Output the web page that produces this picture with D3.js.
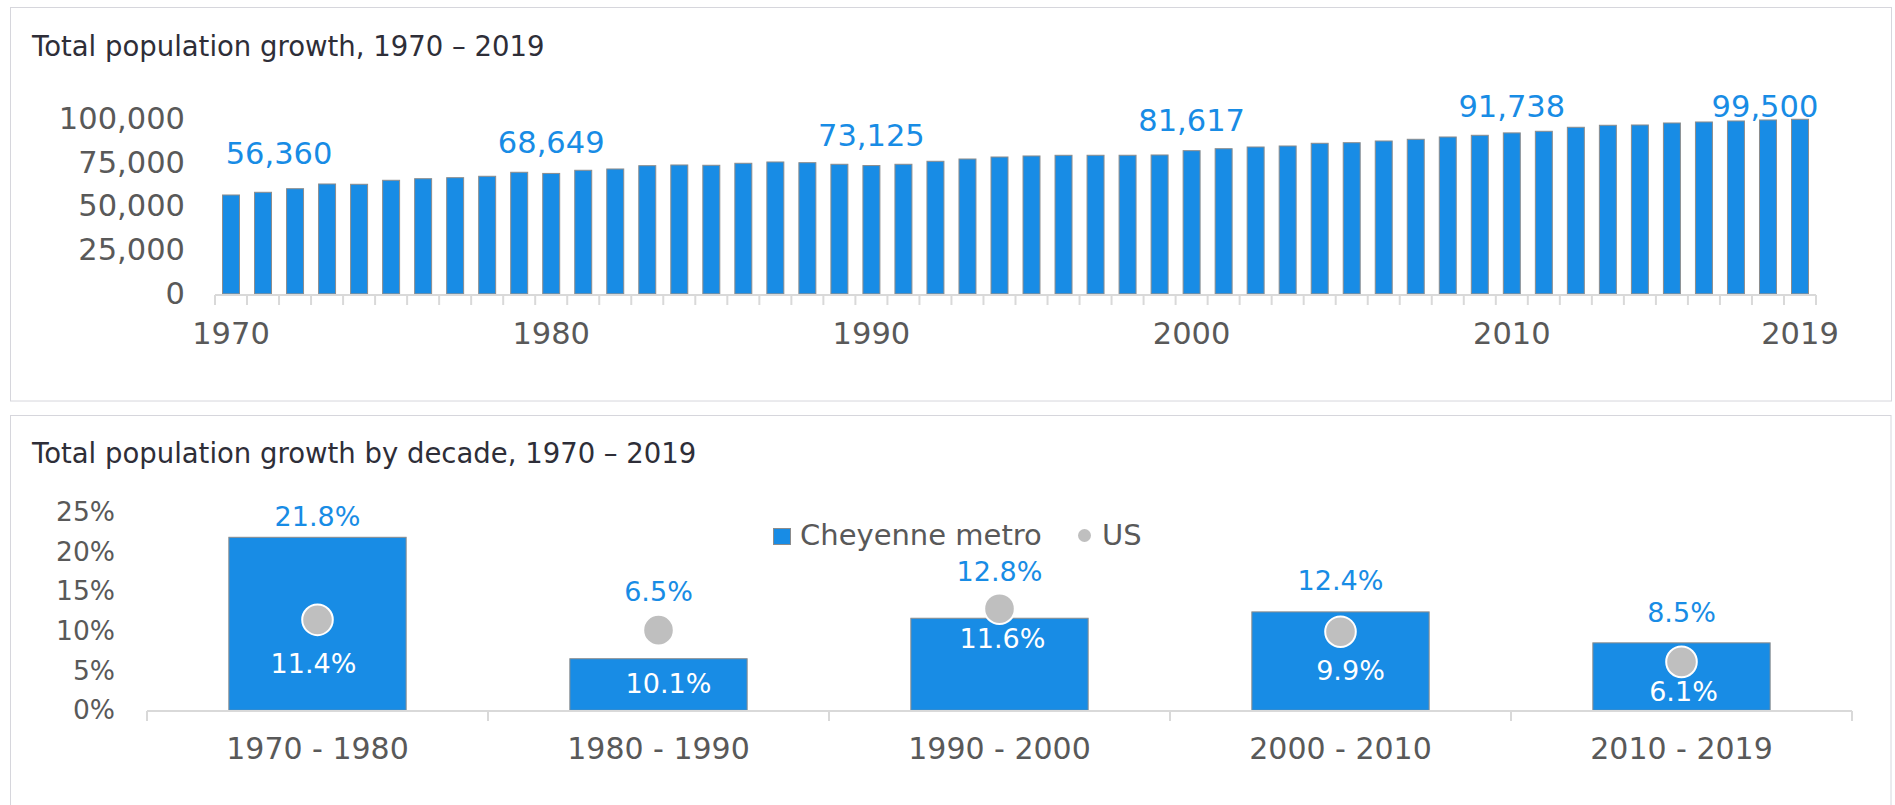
<!DOCTYPE html>
<html>
<head>
<meta charset="utf-8">
<script src="https://cdn.jsdelivr.net/npm/d3@7"></script>
<style>
    body { margin: 0; background: #fff; }
    svg { display: block; font-family: "DejaVu Sans", sans-serif; }
</style>
</head>
<body>
<div id="graph"></div>
<script>
// data
var years = d3.range(1970, 2020);
var population = [
    56360, 57900, 59950, 62630, 62460, 64740, 65650, 66220, 67020, 69300,
    68649, 70440, 71180, 73060, 73460, 73290, 74430, 75170, 74770, 73860,
    73125, 73860, 75570, 76870, 78010, 78590, 78980, 78990, 79000, 79160,
    81617, 82740, 83710, 84280, 85820, 86160, 87130, 88100, 89410, 90380,
    91738, 92660, 94940, 96080, 96250, 97390, 97960, 98530, 99100, 99500
];
var labelYears = [1970, 1980, 1990, 2000, 2010, 2019];
var yearTicks = [1970, 1980, 1990, 2000, 2010, 2019];
var popTicks = [0, 25000, 50000, 75000, 100000];

var decades = ["1970 - 1980", "1980 - 1990", "1990 - 2000", "2000 - 2010", "2010 - 2019"];
var cheyenne = [21.8, 6.5, 11.6, 12.4, 8.5];
var us = [11.4, 10.1, 12.8, 9.9, 6.1];
var cheyenneLabels = ["21.8%", "6.5%", "12.8%", "12.4%", "8.5%"];
var usLabels = ["11.4%", "10.1%", "11.6%", "9.9%", "6.1%"];
var pctTicks = [0, 5, 10, 15, 20, 25];

var blue = "#188ce5", grey = "#595959", dark = "#2e2e38",
    axisGrey = "#d9d9d9", dotGrey = "#bfbfbf", edge = "#8c8c8c";

var svg = d3.select("#graph").append("svg")
    .attr("width", 1895)
    .attr("height", 805);

// panel frames
svg.append("rect")
    .attr("x", 10.5).attr("y", 7.5)
    .attr("width", 1881).attr("height", 393.5)
    .attr("fill", "none").attr("stroke", "#d6d6dc");
svg.append("rect")
    .attr("x", 10.5).attr("y", 415.5)
    .attr("width", 1880.5).attr("height", 420)
    .attr("fill", "none").attr("stroke", "#d6d6dc");

// titles
svg.append("text")
    .attr("x", 32).attr("y", 56)
    .attr("font-size", 27.5).attr("fill", dark)
    .text("Total population growth, 1970 – 2019");
svg.append("text")
    .attr("x", 32).attr("y", 463)
    .attr("font-size", 27.5).attr("fill", dark)
    .text("Total population growth by decade, 1970 – 2019");

// ---------- top chart ----------
var x1 = d3.scaleBand()
    .domain(years)
    .range([215, 1816])
    .paddingInner(0.47)
    .paddingOuter(0.235);
var y1 = d3.scaleLinear()
    .domain([0, 100000])
    .range([293.9, 118.4]);

svg.append("g").selectAll("rect")
    .data(population)
    .enter().append("rect")
    .attr("x", function(d, i) { return x1(years[i]); })
    .attr("y", function(d) { return y1(d); })
    .attr("width", x1.bandwidth())
    .attr("height", function(d) { return y1(0) - y1(d); })
    .attr("fill", blue)
    .attr("stroke", edge)
    .attr("stroke-width", 1);

// axis line and ticks between bars
var base1 = 295;
svg.append("line")
    .attr("x1", x1.range()[0]).attr("x2", x1.range()[1])
    .attr("y1", base1).attr("y2", base1)
    .attr("stroke", axisGrey).attr("stroke-width", 2);
svg.append("g").selectAll("line")
    .data(d3.range(years.length + 1))
    .enter().append("line")
    .attr("x1", function(i) { return x1.range()[0] + i * x1.step(); })
    .attr("x2", function(i) { return x1.range()[0] + i * x1.step(); })
    .attr("y1", base1).attr("y2", base1 + 10)
    .attr("stroke", axisGrey).attr("stroke-width", 2);

var yAxis1 = svg.append("g")
    .attr("transform", "translate(185,0)")
    .call(d3.axisLeft(y1).tickValues(popTicks).tickSize(0).tickPadding(0).tickFormat(d3.format(",")));
var xAxis1 = svg.append("g")
    .attr("transform", "translate(0," + base1 + ")")
    .call(d3.axisBottom(x1).tickValues(yearTicks).tickSize(0).tickPadding(27.3));
[yAxis1, xAxis1].forEach(function(a) {
    a.select(".domain").remove();
    a.selectAll("text").attr("font-size", 30.5).attr("fill", grey)
        .attr("font-family", "DejaVu Sans");
});

// value labels, a few moved by hand like in the original
var nudge1 = {1970: [48, 42], 2010: [0, 27], 2019: [-35, 13]};
svg.append("g").selectAll("text")
    .data(labelYears)
    .enter().append("text")
    .attr("x", function(d) { return x1(d) + x1.bandwidth() / 2 + (nudge1[d] ? nudge1[d][0] : 0); })
    .attr("y", function(d) { return y1(population[years.indexOf(d)]) - (nudge1[d] ? nudge1[d][1] : 31); })
    .attr("dy", "0.36em")
    .attr("text-anchor", "middle")
    .attr("font-size", 30.5)
    .attr("fill", blue)
    .text(function(d) { return d3.format(",")(population[years.indexOf(d)]); });

// ---------- bottom chart ----------
var x2 = d3.scaleBand()
    .domain(decades)
    .range([147, 1852])
    .paddingInner(0.48)
    .paddingOuter(0.24);
var y2 = d3.scaleLinear()
    .domain([0, 25])
    .range([710.3, 511.9]);

svg.append("g").selectAll("rect")
    .data(cheyenne)
    .enter().append("rect")
    .attr("x", function(d, i) { return x2(decades[i]); })
    .attr("y", function(d) { return y2(d); })
    .attr("width", x2.bandwidth())
    .attr("height", function(d) { return y2(0) - y2(d); })
    .attr("fill", blue)
    .attr("stroke", edge)
    .attr("stroke-width", 1);

var base2 = 711;
svg.append("line")
    .attr("x1", x2.range()[0]).attr("x2", x2.range()[1])
    .attr("y1", base2).attr("y2", base2)
    .attr("stroke", axisGrey).attr("stroke-width", 2);
svg.append("g").selectAll("line")
    .data(d3.range(decades.length + 1))
    .enter().append("line")
    .attr("x1", function(i) { return x2.range()[0] + i * x2.step(); })
    .attr("x2", function(i) { return x2.range()[0] + i * x2.step(); })
    .attr("y1", base2).attr("y2", base2 + 10)
    .attr("stroke", axisGrey).attr("stroke-width", 2);

svg.append("g").selectAll("circle")
    .data(us)
    .enter().append("circle")
    .attr("cx", function(d, i) { return x2(decades[i]) + x2.bandwidth() / 2; })
    .attr("cy", function(d) { return y2(d); })
    .attr("r", 15.3)
    .attr("fill", dotGrey)
    .attr("stroke", "#fff")
    .attr("stroke-width", 2);

var yAxis2 = svg.append("g")
    .attr("transform", "translate(115,0)")
    .call(d3.axisLeft(y2).tickValues(pctTicks).tickSize(0).tickPadding(0).tickFormat(function(d) { return d + "%"; }));
yAxis2.selectAll("text").attr("font-size", 26.5);
var xAxis2 = svg.append("g")
    .attr("transform", "translate(0," + base2 + ")")
    .call(d3.axisBottom(x2).tickSize(0).tickPadding(26.7));
xAxis2.selectAll("text").attr("font-size", 30);
[yAxis2, xAxis2].forEach(function(a) {
    a.select(".domain").remove();
    a.selectAll("text").attr("fill", grey).attr("font-family", "DejaVu Sans");
});

// labels placed by hand in the original: gap above the highest mark, gap under the dot
var blueGap = [21, 23, 21, 32, 31];
var whiteGap = [43, 53, 30, 39, 29];
var whiteDx = [-4, 10, 3, 10, 2];
svg.append("g").selectAll("text")
    .data(cheyenneLabels)
    .enter().append("text")
    .attr("x", function(d, i) { return x2(decades[i]) + x2.bandwidth() / 2; })
    .attr("y", function(d, i) { return Math.min(y2(cheyenne[i]), y2(us[i]) - 16) - blueGap[i]; })
    .attr("dy", "0.36em")
    .attr("text-anchor", "middle")
    .attr("font-size", 27)
    .attr("fill", blue)
    .text(function(d) { return d; });
svg.append("g").selectAll("text")
    .data(usLabels)
    .enter().append("text")
    .attr("x", function(d, i) { return x2(decades[i]) + x2.bandwidth() / 2 + whiteDx[i]; })
    .attr("y", function(d, i) { return y2(us[i]) + whiteGap[i]; })
    .attr("dy", "0.36em")
    .attr("text-anchor", "middle")
    .attr("font-size", 27)
    .attr("fill", "#fff")
    .text(function(d) { return d; });

// legend
var legend = svg.append("g");
legend.append("rect")
    .attr("x", 773.5).attr("y", 528.5)
    .attr("width", 17).attr("height", 16)
    .attr("fill", blue).attr("stroke", edge);
legend.append("text")
    .attr("x", 800).attr("y", 545)
    .attr("font-size", 29).attr("fill", grey)
    .text("Cheyenne metro");
legend.append("circle")
    .attr("cx", 1084.5).attr("cy", 535.5).attr("r", 6.5)
    .attr("fill", dotGrey);
legend.append("text")
    .attr("x", 1102).attr("y", 545)
    .attr("font-size", 29).attr("fill", grey)
    .text("US");
</script>
</body>
</html>
